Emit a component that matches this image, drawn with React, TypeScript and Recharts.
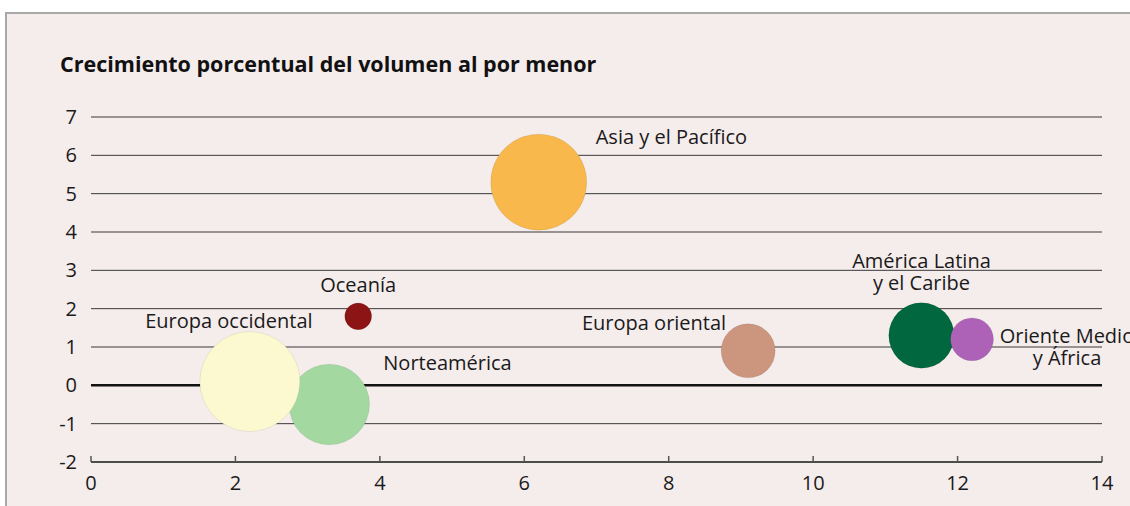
import React from "react";
import {
  CartesianGrid,
  Cell,
  ReferenceLine,
  Scatter,
  ScatterChart,
  XAxis,
  YAxis,
  ZAxis,
} from "recharts";

// drawing order matters: the later bubbles sit on top
const regions = [
  "Norteamérica",
  "Europa occidental",
  "Oceanía",
  "Asia y el Pacífico",
  "Europa oriental",
  "América Latina y el Caribe",
  "Oriente Medio y África",
];
const xValues = [3.3, 2.2, 3.7, 6.2, 9.1, 11.5, 12.2];
const volumeGrowth = [-0.5, 0.1, 1.8, 5.3, 0.9, 1.3, 1.2];
const marketSize = [1620, 2500, 180, 2300, 730, 1070, 460];

const xTicks = [0, 2, 4, 6, 8, 10, 12, 14];
const yTicks = [-2, -1, 0, 1, 2, 3, 4, 5, 6, 7];

const colors = ["#a3d9a0", "#fcf8d0", "#8c1414", "#f8b84b", "#cc957e", "#00673f", "#ad62b8"];

// label placement relative to the bubble centre
const labelLayout: Record<string, { lines: string[]; dx: number; dy: number; anchor: string }> = {
  "Norteamérica": { lines: ["Norteamérica"], dx: 54, dy: -42, anchor: "start" },
  "Europa occidental": { lines: ["Europa occidental"], dx: -21, dy: -61, anchor: "middle" },
  "Oceanía": { lines: ["Oceanía"], dx: 0, dy: -31, anchor: "middle" },
  "Asia y el Pacífico": { lines: ["Asia y el Pacífico"], dx: 57, dy: -45, anchor: "start" },
  "Europa oriental": { lines: ["Europa oriental"], dx: -22, dy: -28, anchor: "end" },
  "América Latina y el Caribe": { lines: ["América Latina", "y el Caribe"], dx: 0, dy: -75, anchor: "middle" },
  "Oriente Medio y África": { lines: ["Oriente Medio", "y África"], dx: 95, dy: -3, anchor: "middle" },
};

const data = regions.map((name, i) => ({
  name,
  x: xValues[i],
  y: volumeGrowth[i],
  z: marketSize[i],
}));

const FONT = "'Open Sans', 'Noto Sans', sans-serif";
const MAX_R = 50;

const Bubble = (props: any) => {
  const { cx, cy, fill } = props;
  const r = props.width ? props.width / 2 : Math.sqrt((props.size || 0) / Math.PI);
  return (
    <circle cx={cx} cy={cy} r={r} fill={fill} stroke="rgba(0,0,0,0.07)" strokeWidth={1} />
  );
};

const BubbleLabel = (props: any) => {
  const { cx, cy, payload } = props;
  const l = labelLayout[payload.name];
  if (!l) return null;
  return (
    <g>
      {l.lines.map((line, i) => (
        <text
          key={i}
          x={cx + l.dx}
          y={cy + l.dy + i * 22}
          dy="0.35em"
          textAnchor={l.anchor as any}
          fontFamily={FONT}
          fontSize={20}
          fill="#1a1a1a"
        >
          {line}
        </text>
      ))}
    </g>
  );
};

const XTick = (props: any) => {
  const { x, y, payload } = props;
  return (
    <g>
      <line x1={x} x2={x} y1={y} y2={y - 6} stroke="#555" strokeWidth={1.5} />
      <text x={x} y={y + 28} textAnchor="middle" fontFamily={FONT} fontSize={20} fill="#1a1a1a">
        {payload.value}
      </text>
    </g>
  );
};

export default function App() {
  return (
    <div style={{ position: "absolute", left: 0, top: 0, width: 1130, height: 506, background: "#fff", overflow: "hidden" }}>
      <div
        style={{
          position: "absolute",
          left: 5,
          top: 12,
          width: 1140,
          height: 520,
          background: "#f5ecec",
          borderTop: "2px solid #a9a9a9",
          borderLeft: "2px solid #a9a9a9",
        }}
      />
      <div
        style={{
          position: "absolute",
          left: 60,
          top: 50,
          fontFamily: FONT,
          fontWeight: 700,
          fontSize: 21.5,
          lineHeight: "28px",
          color: "#111",
          whiteSpace: "nowrap",
        }}
      >
        Crecimiento porcentual del volumen al por menor
      </div>
      <div style={{ position: "absolute", left: 0, top: 0 }}>
        <ScatterChart width={1130} height={506} margin={{ top: 117, right: 28, bottom: 14, left: 31 }}>
          <CartesianGrid horizontal vertical={false} stroke="#3a3a3a" strokeWidth={1} />
          <XAxis
            type="number"
            dataKey="x"
            domain={[0, 14]}
            ticks={xTicks}
            interval={0}
            height={30}
            tickSize={0}
            tickMargin={0}
            tickLine={false}
            axisLine={{ stroke: "#4d4d4d", strokeWidth: 2 }}
            tick={<XTick />}
          />
          <YAxis
            type="number"
            dataKey="y"
            domain={[-2, 7]}
            ticks={yTicks}
            interval={0}
            width={60}
            tickSize={0}
            tickMargin={14}
            tickLine={false}
            axisLine={false}
            tick={{ fontFamily: FONT, fontSize: 20, fill: "#1a1a1a" }}
          />
          <ZAxis type="number" dataKey="z" domain={[0, 2500]} range={[0, Math.PI * MAX_R * MAX_R]} />
          <ReferenceLine y={0} stroke="#111" strokeWidth={2.5} />
          <Scatter data={data} shape={<Bubble />} isAnimationActive={false}>
            {data.map((d, i) => (
              <Cell key={d.name} fill={colors[i]} />
            ))}
          </Scatter>
          <Scatter data={data} shape={<BubbleLabel />} isAnimationActive={false} />
        </ScatterChart>
      </div>
    </div>
  );
}
